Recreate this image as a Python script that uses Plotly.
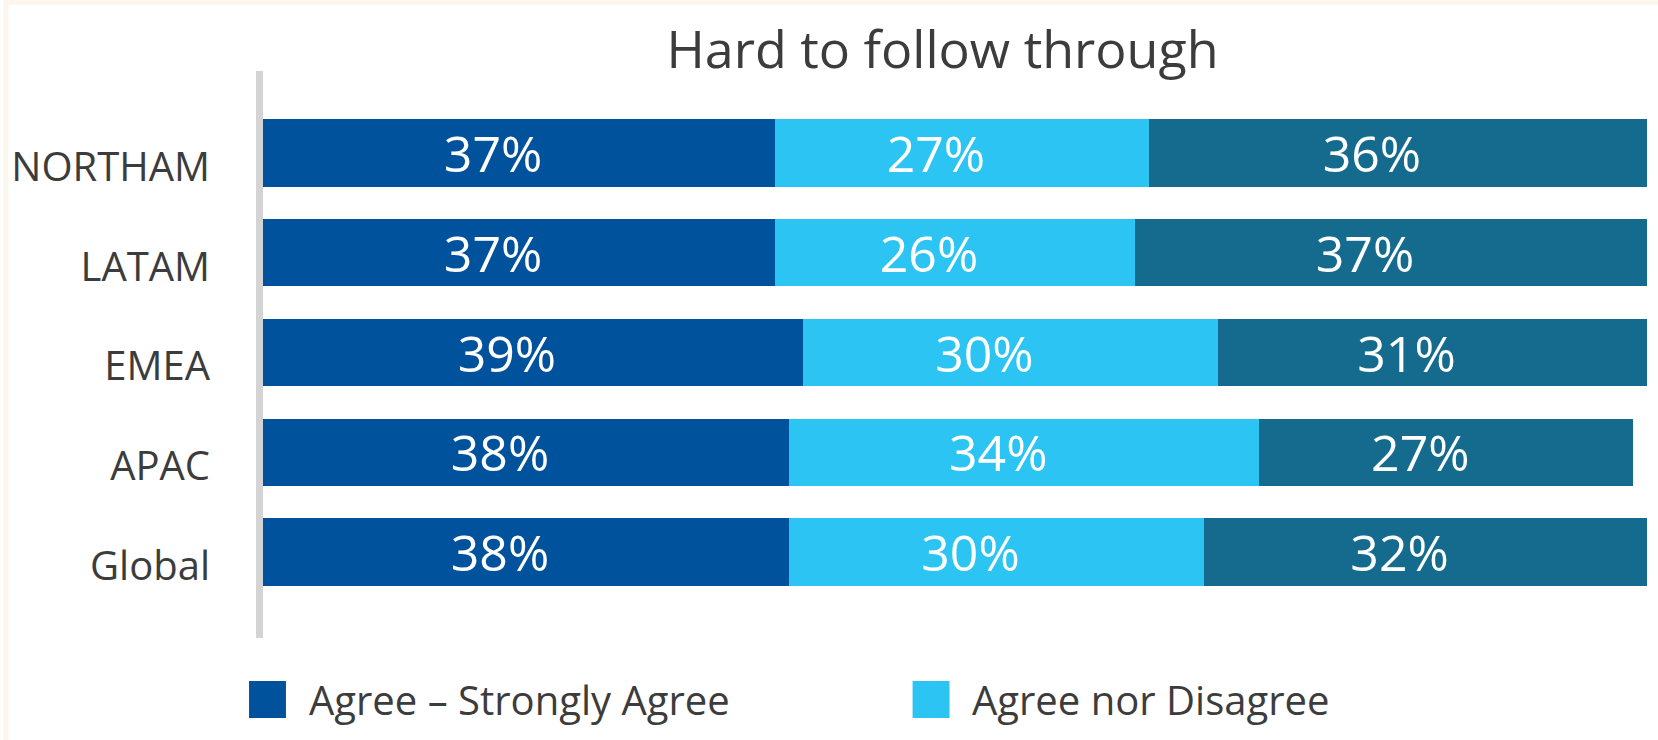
import plotly.graph_objects as go

# Survey responses by region (percent of respondents)
regions = ["Global", "APAC", "EMEA", "LATAM", "NORTHAM"]
agree = [38, 38, 39, 37, 37]
neutral = [30, 34, 30, 26, 27]
disagree = [32, 27, 31, 37, 36]

series_names = ["Agree – Strongly Agree", "Agree nor Disagree", "Disagree – Strongly Disagree"]
series_values = [agree, neutral, disagree]
series_colors = ["#00529C", "#2CC4F2", "#146B8D"]
legend_entries = 2  # entries shown in the key below the chart

W, H = 1658, 740
M_L, M_R, M_T, M_B = 260, 11, 71, 102
PW, PH = W - M_L - M_R, H - M_T - M_B
Y_RANGE = [-0.86, 4.82]
LABEL_DROP = 0.14  # region names sit slightly below the bar centres


def px_x(px):
    return (px - M_L) / PW


def px_y(py):
    return (H - M_B - py) / PH


FONT = "Open Sans"
TEXT_COLOR = "#3C3C3C"
PAD = "\u00a0" * 4  # nudges the value labels a little left of centre

fig = go.Figure()
for name, vals, col in zip(series_names, series_values, series_colors):
    fig.add_trace(go.Bar(
        y=regions, x=vals, name=name, orientation="h",
        marker=dict(color=col, line=dict(width=0)),
        text=[f"{v}%{PAD}" for v in vals], textposition="inside",
        insidetextanchor="middle", constraintext="none",
        textfont=dict(family=FONT, size=50, color="white"),
        showlegend=False,
    ))

# invisible anchor so the region-name axis gets drawn
fig.add_trace(go.Scatter(
    x=[0] * len(regions), y=list(range(len(regions))), yaxis="y2",
    mode="markers", marker=dict(size=1, opacity=0),
    hoverinfo="skip", showlegend=False,
))

shapes = [
    # thin cream border along the top and left edges
    dict(type="rect", xref="paper", yref="paper", x0=px_x(0), x1=px_x(W), y0=px_y(0), y1=px_y(5),
         fillcolor="#FCF7EE", line_width=0, layer="below"),
    dict(type="rect", xref="paper", yref="paper", x0=px_x(0), x1=px_x(5), y0=px_y(0), y1=px_y(H),
         fillcolor="#FCF7EE", line_width=0, layer="below"),
]
annotations = []

# key below the chart
key_x = [246, 911]
for i in range(legend_entries):
    x0 = key_x[i]
    shapes.append(dict(type="rect", xref="paper", yref="paper",
                       x0=px_x(x0), x1=px_x(x0 + 37), y0=px_y(718), y1=px_y(681),
                       fillcolor=series_colors[i], line_width=0))
    annotations.append(dict(xref="paper", yref="paper", x=px_x(x0 + 58), y=px_y(699),
                            xanchor="left", yanchor="middle", showarrow=False,
                            text=series_names[i],
                            font=dict(family=FONT, size=40, color=TEXT_COLOR)))

fig.update_layout(
    width=W, height=H,
    margin=dict(l=M_L, r=M_R, t=M_T, b=M_B),
    barmode="stack", bargap=0.325,
    paper_bgcolor="white", plot_bgcolor="white",
    title=dict(text="Hard to follow through", x=px_x(941), xref="paper", xanchor="center",
               y=1 - 50 / H, yanchor="middle",
               font=dict(family=FONT, size=52, color=TEXT_COLOR)),
    xaxis=dict(range=[0, 100], visible=False),
    yaxis=dict(type="category", categoryorder="array", categoryarray=regions,
               range=Y_RANGE, showgrid=False, zeroline=False,
               showline=True, linecolor="#D4D4D4", linewidth=7,
               ticks="", showticklabels=False),
    # label axis: same categories, shifted so the names sit a touch lower
    yaxis2=dict(overlaying="y", anchor="x", side="left",
                range=[Y_RANGE[0] + LABEL_DROP, Y_RANGE[1] + LABEL_DROP],
                tickmode="array", tickvals=list(range(len(regions))), ticktext=regions,
                showgrid=False, zeroline=False,
                showline=True, linecolor="#D4D4D4", linewidth=7,
                ticks="", ticklabelstandoff=38,
                tickfont=dict(family=FONT, size=40, color=TEXT_COLOR)),
    shapes=shapes, annotations=annotations,
)

fig.write_html("out.html")
